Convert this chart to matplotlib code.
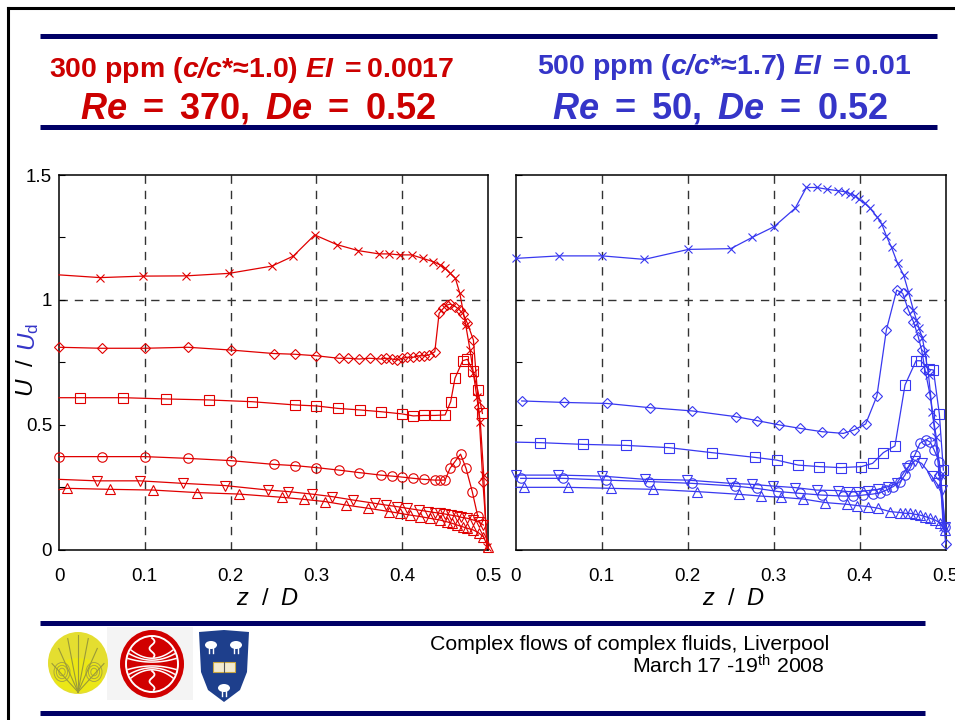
import numpy as np
import matplotlib
matplotlib.use("Agg")
import matplotlib.pyplot as plt
from matplotlib.patches import Ellipse, Polygon, Rectangle

plt.rcParams["font.family"] = ["Liberation Sans", "DejaVu Sans"]
plt.rcParams["mathtext.fontset"] = "custom"
plt.rcParams["mathtext.rm"] = "Liberation Sans"
plt.rcParams["mathtext.sf"] = "Liberation Sans"
plt.rcParams["mathtext.it"] = "Liberation Sans:italic"
plt.rcParams["mathtext.bf"] = "Liberation Sans:bold"
plt.rcParams["mathtext.bfit"] = "Liberation Sans:bold:italic"

# ---------------- data: 300 ppm (left) ----------------
L_cross_z = [0, 0.048, 0.098, 0.148, 0.198, 0.248, 0.273, 0.298, 0.324, 0.349, 0.373, 0.385,
             0.397, 0.411, 0.424, 0.436, 0.444, 0.450, 0.456, 0.462, 0.467, 0.474, 0.479,
             0.483, 0.487, 0.491, 0.495, 0.4985]
L_cross_u = [1.10, 1.089, 1.095, 1.096, 1.106, 1.135, 1.175, 1.26, 1.221, 1.197, 1.184, 1.184,
             1.18, 1.18, 1.166, 1.153, 1.14, 1.126, 1.106, 1.086, 1.028, 0.90, 0.80,
             0.706, 0.61, 0.512, 0.30, 0.011]

L_diam_z = [0, 0.0497, 0.0998, 0.150, 0.200, 0.250, 0.275, 0.300, 0.326, 0.337, 0.350, 0.362,
            0.375, 0.381, 0.388, 0.394, 0.400, 0.406, 0.413, 0.419, 0.425, 0.431, 0.438,
            0.443, 0.448, 0.452, 0.456, 0.462, 0.467, 0.471, 0.476, 0.483, 0.489, 0.494, 0.4995]
L_diam_u = [0.81, 0.806, 0.806, 0.81, 0.799, 0.785, 0.782, 0.776, 0.766, 0.766, 0.763, 0.766,
            0.763, 0.766, 0.763, 0.759, 0.766, 0.77, 0.77, 0.776, 0.776, 0.779, 0.792,
            0.946, 0.966, 0.979, 0.983, 0.973, 0.959, 0.943, 0.906, 0.839, 0.572, 0.272, 0.005]

L_sq_z = [0, 0.0245, 0.075, 0.1247, 0.175, 0.225, 0.275, 0.3, 0.3256, 0.3508, 0.375, 0.400,
          0.413, 0.425, 0.438, 0.450, 0.4565, 0.4615, 0.4705, 0.476, 0.482, 0.488, 0.4935]
L_sq_u = [0.608, 0.608, 0.608, 0.603, 0.599, 0.592, 0.579, 0.575, 0.565, 0.559, 0.552, 0.543,
          0.535, 0.537, 0.537, 0.539, 0.592, 0.686, 0.756, 0.762, 0.716, 0.639, 0.545]

L_circ_z = [0, 0.0497, 0.0998, 0.150, 0.200, 0.250, 0.275, 0.300, 0.326, 0.350, 0.375, 0.388,
            0.400, 0.413, 0.425, 0.438, 0.444, 0.450, 0.4557, 0.4615, 0.468, 0.4744, 0.4817, 0.488]
L_circ_u = [0.372, 0.372, 0.372, 0.365, 0.356, 0.341, 0.336, 0.328, 0.318, 0.308, 0.298, 0.294,
            0.29, 0.285, 0.281, 0.278, 0.278, 0.278, 0.325, 0.352, 0.382, 0.325, 0.231, 0.134]

L_dtri_z = [0, 0.0439, 0.0944, 0.144, 0.1935, 0.244, 0.267, 0.2945, 0.318, 0.343, 0.368, 0.381,
            0.3935, 0.406, 0.419, 0.4305, 0.438, 0.444, 0.45, 0.4565, 0.4635, 0.469, 0.476,
            0.483, 0.489, 0.4946]
L_dtri_u = [0.281, 0.275, 0.275, 0.265, 0.256, 0.238, 0.232, 0.222, 0.212, 0.198, 0.185, 0.178,
            0.172, 0.165, 0.158, 0.152, 0.148, 0.145, 0.142, 0.138, 0.134, 0.129, 0.125,
            0.118, 0.111, 0.098]

L_utri_z = [0, 0.0097, 0.0594, 0.11, 0.1605, 0.21, 0.26, 0.285, 0.31, 0.3345, 0.3605, 0.385,
            0.397, 0.409, 0.421, 0.432, 0.444, 0.452, 0.458, 0.464, 0.4705, 0.476, 0.483,
            0.489, 0.4946, 0.5]
L_utri_u = [0.24, 0.245, 0.241, 0.238, 0.228, 0.222, 0.209, 0.201, 0.192, 0.178, 0.165, 0.152,
            0.145, 0.138, 0.132, 0.125, 0.118, 0.111, 0.105, 0.098, 0.091, 0.085, 0.078,
            0.067, 0.051, 0.011]

# ---------------- data: 500 ppm (right) ----------------
R_cross_z = [0, 0.0504, 0.1008, 0.1496, 0.2008, 0.25, 0.275, 0.3004, 0.325, 0.338, 0.35, 0.362,
             0.375, 0.383, 0.389, 0.3946, 0.3996, 0.406, 0.412, 0.42, 0.4256, 0.431, 0.437,
             0.444, 0.451, 0.4566, 0.4624, 0.466, 0.469, 0.473, 0.476, 0.480, 0.4845, 0.489,
             0.494, 0.497]
R_cross_u = [1.166, 1.176, 1.176, 1.162, 1.202, 1.205, 1.25, 1.293, 1.367, 1.45, 1.45, 1.443,
             1.437, 1.433, 1.424, 1.416, 1.402, 1.386, 1.367, 1.333, 1.304, 1.256, 1.21,
             1.146, 1.1, 1.033, 0.959, 0.919, 0.886, 0.846, 0.786, 0.70, 0.55, 0.45,
             0.30, 0.09]

R_diam_z = [0.007, 0.0566, 0.1058, 0.156, 0.2054, 0.256, 0.281, 0.3066, 0.331, 0.356, 0.381,
            0.3934, 0.407, 0.42, 0.431, 0.443, 0.450, 0.4566, 0.4624, 0.468, 0.472, 0.476,
            0.4818, 0.4864, 0.4926, 0.5]
R_diam_u = [0.595, 0.589, 0.585, 0.568, 0.555, 0.532, 0.516, 0.499, 0.485, 0.472, 0.465,
            0.479, 0.503, 0.615, 0.879, 1.039, 1.026, 0.959, 0.913, 0.853, 0.799, 0.719,
            0.619, 0.499, 0.30, 0.022]

R_sq_z = [0, 0.0283, 0.0787, 0.128, 0.178, 0.228, 0.278, 0.3035, 0.3287, 0.353, 0.378, 0.402,
          0.415, 0.4275, 0.441, 0.4527, 0.4655, 0.471, 0.48, 0.4857, 0.4926, 0.4973]
R_sq_u = [0.43, 0.428, 0.421, 0.417, 0.408, 0.388, 0.369, 0.358, 0.338, 0.332, 0.328, 0.332,
          0.345, 0.388, 0.415, 0.659, 0.756, 0.756, 0.722, 0.719, 0.543, 0.318]

R_circ_z = [0.0058, 0.0554, 0.105, 0.1554, 0.2047, 0.255, 0.28, 0.3054, 0.33, 0.356, 0.381,
            0.3926, 0.404, 0.415, 0.4236, 0.431, 0.439, 0.447, 0.4527, 0.4578, 0.4643, 0.47,
            0.477, 0.482, 0.4864, 0.4926, 0.4995]
R_circ_u = [0.285, 0.285, 0.278, 0.272, 0.265, 0.254, 0.245, 0.232, 0.225, 0.218, 0.214,
            0.214, 0.218, 0.222, 0.227, 0.238, 0.252, 0.272, 0.298, 0.34, 0.38, 0.425,
            0.44, 0.43, 0.40, 0.35, 0.09]

R_dtri_z = [0, 0.0496, 0.1, 0.1504, 0.1996, 0.25, 0.2744, 0.2996, 0.3248, 0.35, 0.375, 0.3868,
            0.398, 0.41, 0.4217, 0.4333, 0.443, 0.4547, 0.4643, 0.472, 0.4837, 0.4895,
            0.4953, 0.4992]
R_dtri_u = [0.298, 0.298, 0.294, 0.281, 0.278, 0.265, 0.261, 0.254, 0.248, 0.238, 0.236, 0.232,
            0.232, 0.236, 0.241, 0.252, 0.265, 0.325, 0.356, 0.345, 0.294, 0.265, 0.238, 0.091]

R_utri_z = [0, 0.0097, 0.0605, 0.111, 0.16, 0.2105, 0.26, 0.285, 0.309, 0.3345, 0.36, 0.385,
            0.397, 0.41, 0.4217, 0.435, 0.447, 0.4527, 0.4585, 0.4643, 0.47, 0.476, 0.482,
            0.4876, 0.4934, 0.4992]
R_utri_u = [0.249, 0.249, 0.249, 0.245, 0.241, 0.232, 0.221, 0.214, 0.209, 0.202, 0.188, 0.181,
            0.176, 0.172, 0.165, 0.152, 0.148, 0.145, 0.145, 0.141, 0.138, 0.132, 0.125,
            0.118, 0.107, 0.078]

x_ticks = [0, 0.1, 0.2, 0.3, 0.4, 0.5]
x_tick_labels = ["0", "0.1", "0.2", "0.3", "0.4", "0.5"]
y_ticks = [0, 0.5, 1.0, 1.5]
y_tick_labels = ["0", "0.5", "1", "1.5"]
y_minor = [0.25, 0.75, 1.25]

RED = "#E00000"
BLUE = "#3838F0"
RED_TXT = "#CC0000"
BLUE_TXT = "#3535C8"
NAVY = "#000066"

W, H = 955, 720
fig = plt.figure(figsize=(W / 100, H / 100), dpi=100)

# ---------------- slide decoration (pixel coordinates) ----------------
deco = fig.add_axes([0, 0, 1, 1])
deco.set_xlim(0, W)
deco.set_ylim(H, 0)
deco.axis("off")

deco.plot([8, W], [8, 8], color="black", lw=2.2, solid_capstyle="projecting")
deco.plot([8, 8], [8, H], color="black", lw=2.2, solid_capstyle="projecting")
for y, x1 in [(36, 937), (127, 937), (623, 925), (713, 925)]:
    deco.plot([40, x1], [y, y], color=NAVY, lw=3.6, solid_capstyle="butt")

# titles
deco.text(252, 77, r"$\mathbf{300\ ppm\ (}\mathbfit{c/c}\mathbf{{*}≈1.0)\ }\mathbfit{EI}\ \mathbf{=0.0017}$",
          color=RED_TXT, fontsize=20.5, ha="center", va="baseline")
deco.text(258, 118, r"$\mathbfit{Re}\ \mathbf{=}\ \mathbf{370,}\ \mathbfit{De}\ \mathbf{=}\ \mathbf{0.52}$",
          color=RED_TXT, fontsize=26, ha="center", va="baseline")
deco.text(724, 74, r"$\mathbf{500\ ppm\ (}\mathbfit{c/c}\mathbf{{*}≈1.7)\ }\mathbfit{EI}\ \mathbf{=0.01}$",
          color=BLUE_TXT, fontsize=20.5, ha="center", va="baseline")
deco.text(720, 118, r"$\mathbfit{Re}\ \mathbf{=}\ \mathbf{50,}\ \mathbfit{De}\ \mathbf{=}\ \mathbf{0.52}$",
          color=BLUE_TXT, fontsize=26, ha="center", va="baseline")

# footer text
deco.text(829, 650, "Complex flows of complex fluids, Liverpool", fontsize=15.3,
          ha="right", va="baseline", color="black")
deco.text(825, 674, r"March 17 -19$^{\mathrm{th}}$ 2008", fontsize=15.3,
          ha="right", va="baseline", color="black")

# logos
deco.add_patch(Rectangle((107, 627), 86, 73, fc="#F4F4F4", ec="none"))
deco.add_patch(Ellipse((78, 663), 60, 62, fc="#E4DE30", ec="none"))
deco.add_patch(Ellipse((78, 675), 50, 34, fc="#EEEA10", ec="none", alpha=0.8))
for ang in np.linspace(-60, 60, 7):
    a = np.deg2rad(ang)
    deco.plot([78, 78 + 30 * np.sin(a)], [692, 692 - 58 * np.cos(a) * 0.98],
              color="#9A9A38", lw=0.8)
for cx in (62, 94):
    for r in (4, 7, 10):
        deco.add_patch(Ellipse((cx, 672), r * 1.6, r * 1.9, fc="none", ec="#A8A440", lw=0.7))

deco.add_patch(Ellipse((152, 664), 64, 68, fc="#D10000", ec="none"))
deco.add_patch(Ellipse((152, 664), 52, 56, fc="none", ec="white", lw=1.4))
xs = np.linspace(128, 176, 60)
for k in (-3, -2, -1, 1, 2, 3):
    ys = 664 + k * 5.5 * (0.35 + 0.65 * ((xs - 152) / 24) ** 2)
    inside = ((xs - 152) / 25) ** 2 + ((ys - 664) / 27) ** 2 < 1
    deco.plot(xs[inside], ys[inside], color="white", lw=1.1)
for y0, y1 in ((638, 657), (671, 690)):
    yy = np.linspace(y0, y1, 40)
    deco.plot(152 + 2.5 * np.sin((yy - y0) / 2.2), yy, color="white", lw=1.3)

shield = [(199, 632), (224, 630), (249, 632), (247, 672), (240, 690), (224, 702),
          (208, 690), (201, 672)]
deco.add_patch(Polygon(shield, closed=True, fc="#1E3F8C", ec="none"))
for bx, by in ((211, 645), (236, 645), (224, 688)):
    deco.add_patch(Ellipse((bx, by), 12, 8, fc="white", ec="none"))
    deco.plot([bx - 2, bx - 2], [by + 3, by + 8], color="white", lw=1)
    deco.plot([bx + 2, bx + 2], [by + 3, by + 8], color="white", lw=1)
deco.add_patch(Rectangle((213, 662), 22, 10, fc="#F2EAD0", ec="#C9A640", lw=0.8))
deco.plot([224, 224], [662, 672], color="#555555", lw=0.8)

# ---------------- plotting panels ----------------
ax_h = 374.5 / H
ax_b = (H - 549.5) / H
axL = fig.add_axes([59 / W, ax_b, 429 / W, ax_h])
axR = fig.add_axes([515.7 / W, ax_b, 430 / W, ax_h])

grid_kw = dict(color="#333333", lw=1.0, ls=(0, (6, 5)), zorder=1)
for ax, show_y in ((axL, True), (axR, False)):
    ax.set_xlim(0, 0.5)
    ax.set_ylim(0, 1.5)
    for gx in x_ticks[1:-1]:
        ax.axvline(gx, **grid_kw)
    ax.axhline(1.0, **grid_kw)
    ax.set_xticks(x_ticks)
    ax.set_xticklabels(x_tick_labels)
    ax.set_yticks(y_ticks)
    ax.set_yticklabels(y_tick_labels if show_y else [])
    ax.set_yticks(y_minor, minor=True)
    ax.tick_params(axis="x", length=0, pad=13, labelsize=13.5)
    ax.tick_params(axis="y", which="both", direction="in", length=4.5, width=0.8,
                   left=True, right=False, labelsize=13.5, pad=5, labelleft=show_y)
    for sp in ax.spines.values():
        sp.set_linewidth(1.1)
        sp.set_color("black")

series_L = [
    (L_cross_z, L_cross_u, "x", 6.0, slice(1, None)),
    (L_diam_z, L_diam_u, "D", 5.4, slice(0, -1)),
    (L_sq_z, L_sq_u, "s", 7.0, slice(1, None)),
    (L_circ_z, L_circ_u, "o", 6.8, None),
    (L_dtri_z, L_dtri_u, "v", 7.0, slice(1, None)),
    (L_utri_z, L_utri_u, "^", 7.0, slice(1, None)),
]
series_R = [
    (R_cross_z, R_cross_u, "x", 6.0, None),
    (R_diam_z, R_diam_u, "D", 5.4, None),
    (R_sq_z, R_sq_u, "s", 7.0, slice(1, None)),
    (R_circ_z, R_circ_u, "o", 6.8, None),
    (R_dtri_z, R_dtri_u, "v", 7.0, None),
    (R_utri_z, R_utri_u, "^", 7.0, slice(1, None)),
]
for ax, series, col in ((axL, series_L, RED), (axR, series_R, BLUE)):
    for z, u, m, ms, every in series:
        ax.plot(z, u, color=col, lw=0.9, marker=m, ms=ms, mfc="none", mec=col, mew=0.8,
                markevery=every, clip_on=False, zorder=3)

# axis labels
for cx in (268, 734):
    deco.text(cx, 605, r"$z$  /  $D$", fontsize=17, ha="center", va="baseline", color="black")
t_black = fig.text(27 / W, 1 - 397 / H, r"$U$  /  ", fontsize=17.5, rotation=90,
                   ha="center", va="bottom", color="black")
fig.canvas.draw()
deco.annotate(r"$U_{\mathrm{d}}$", xy=(0, 1), xycoords=t_black, fontsize=17.5, rotation=90,
              ha="left", va="bottom", color=BLUE_TXT, annotation_clip=False)

fig.savefig("out.png", dpi=100)
